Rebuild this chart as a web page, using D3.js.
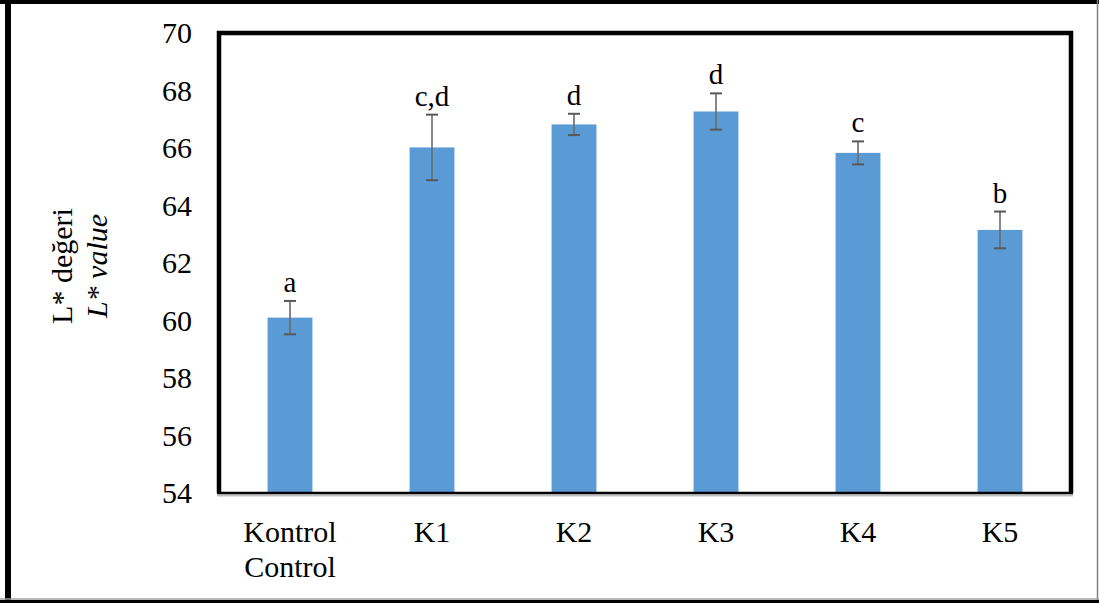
<!DOCTYPE html>
<html>
<head>
<meta charset="utf-8">
<script src="https://cdn.jsdelivr.net/npm/d3@7"></script>
<style>
  body { margin: 0; background: #fff; }
  svg, text { font-family: "Liberation Serif", "Times New Roman", Times, serif; fill: #000; }
</style>
</head>
<body>
<div id="chart"></div>
<script>
// values
const groups  = ["Kontrol", "K1", "K2", "K3", "K4", "K5"]
const labels2 = ["Control", "", "", "", "", ""]
const means   = [60.1, 66.02, 66.82, 67.27, 65.83, 63.15]
const errs    = [0.58, 1.14, 0.37, 0.63, 0.40, 0.64]
const letters = ["a", "c,d", "d", "d", "c", "b"]
const yTicks  = [54, 56, 58, 60, 62, 64, 66, 68, 70]

const W = 1099, H = 603
const margin = {top: 33, right: 28, bottom: 110, left: 219}
const width  = W - margin.left - margin.right,
      height = H - margin.top - margin.bottom

const svg = d3.select("#chart")
  .append("svg")
    .attr("width", W)
    .attr("height", H)
    .attr("font-family", "Liberation Serif")

// outer frame (cropped screenshot border)
svg.append("line").attr("x1", 0).attr("x2", W).attr("y1", 2).attr("y2", 2)
  .style("stroke", "black").style("stroke-width", 4)
svg.append("line").attr("x1", 8).attr("x2", 8).attr("y1", 0).attr("y2", H)
  .style("stroke", "black").style("stroke-width", 6)
svg.append("line").attr("x1", 1097.5).attr("x2", 1097.5).attr("y1", 0).attr("y2", 600)
  .style("stroke", "#808080").style("stroke-width", 1.5)
svg.append("line").attr("x1", 0).attr("x2", W).attr("y1", 599).attr("y2", 599)
  .style("stroke", "#a0a0a0").style("stroke-width", 1.5)
svg.append("line").attr("x1", 0).attr("x2", W).attr("y1", 601.5).attr("y2", 601.5)
  .style("stroke", "black").style("stroke-width", 3)

const g = svg.append("g")
  .attr("transform", "translate(" + margin.left + "," + margin.top + ")")

const x = d3.scaleBand().domain(groups).range([0, width]).paddingInner(0.684).paddingOuter(0.342)
const y = d3.scaleLinear().domain([54, 70]).range([height, 0])

// bars
g.selectAll("rect.bar")
  .data(means)
  .enter()
  .append("rect")
    .attr("class", "bar")
    .attr("x", (d, i) => x(groups[i]))
    .attr("y", d => y(d))
    .attr("width", x.bandwidth())
    .attr("height", d => y(54) - y(d))
    .style("fill", "#5b9bd5")

// error bars
const eb = g.selectAll("g.err")
  .data(means)
  .enter()
  .append("g")
    .attr("class", "err")
    .attr("transform", (d, i) => "translate(" + (x(groups[i]) + x.bandwidth() / 2) + ",0)")
eb.append("line")
  .attr("y1", (d, i) => y(d + errs[i]))
  .attr("y2", (d, i) => y(d - errs[i]))
  .style("stroke", "#6a6a6a").style("stroke-width", 1.6)
eb.append("line")
  .attr("x1", -6).attr("x2", 6)
  .attr("y1", (d, i) => y(d + errs[i]))
  .attr("y2", (d, i) => y(d + errs[i]))
  .style("stroke", "#595959").style("stroke-width", 2)
eb.append("line")
  .attr("x1", -6).attr("x2", 6)
  .attr("y1", (d, i) => y(d - errs[i]))
  .attr("y2", (d, i) => y(d - errs[i]))
  .style("stroke", "#595959").style("stroke-width", 2)

// significance letters
eb.append("text")
  .attr("text-anchor", "middle")
  .attr("y", (d, i) => y(d + errs[i]) - 9)
  .style("font-size", "29px")
  .text((d, i) => letters[i])

// y axis tick labels
g.selectAll("text.ytick")
  .data(yTicks)
  .enter()
  .append("text")
    .attr("class", "ytick")
    .attr("x", -27)
    .attr("y", d => y(d))
    .attr("dy", "0.34em")
    .attr("text-anchor", "end")
    .style("font-size", "30px")
    .text(d => d)

// x axis labels
const xl = g.selectAll("text.xlab")
  .data(groups)
  .enter()
  .append("text")
    .attr("class", "xlab")
    .attr("x", d => x(d) + x.bandwidth() / 2)
    .attr("y", height + 49)
    .attr("text-anchor", "middle")
    .style("font-size", "30px")
xl.append("tspan").text(d => d)
xl.append("tspan")
  .attr("x", d => x(d) + x.bandwidth() / 2)
  .attr("dy", 35)
  .text((d, i) => labels2[i])

// plot frame
g.append("path")
  .attr("d", "M0," + height + "V0H" + width + "V" + height)
  .style("fill", "none").style("stroke", "black").style("stroke-width", 4.5)
g.append("line")
  .attr("x1", -2).attr("x2", width + 2)
  .attr("y1", height + 2.5).attr("y2", height + 2.5)
  .style("stroke", "#bfbfbf").style("stroke-width", 2)
g.append("line")
  .attr("x1", -2).attr("x2", width + 2)
  .attr("y1", height).attr("y2", height)
  .style("stroke", "black").style("stroke-width", 2.5)

// y axis title
const yt = svg.append("text")
  .attr("transform", "rotate(-90)")
  .attr("text-anchor", "middle")
  .style("font-size", "30px")
yt.append("tspan")
  .attr("x", -266).attr("y", 72)
  .text("L* değeri")
yt.append("tspan")
  .attr("x", -266).attr("y", 107)
  .style("font-style", "italic")
  .text("L* value")
</script>
</body>
</html>
